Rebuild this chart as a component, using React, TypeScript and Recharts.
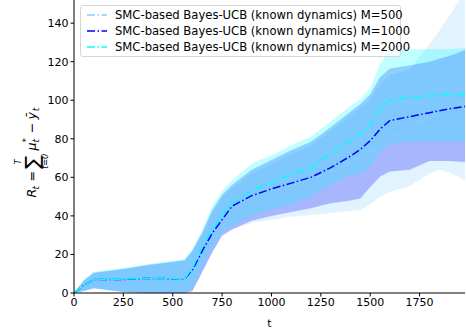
import { ComposedChart, Area, Line, XAxis, YAxis } from "recharts";

const T = [0, 50, 100, 250, 375, 560, 600, 650, 700, 750, 800, 900, 1000, 1100, 1200, 1300, 1400, 1450, 1500, 1550, 1600, 1700, 1800, 1850, 1900, 1980];

// mean regret per number of particles
const MEAN_500 = [0, 4, 7, 7, 7.5, 7.3, 12, 22, 31, 38, 44.5, 50, 53, 55.5, 59, 63, 68, 71, 74, 77, 80, 86, 91, 93.5, 95.5, 99.5];
const MEAN_1000 = [0, 4, 7, 7, 7.6, 7.3, 12, 22, 31, 38, 45, 50.5, 54, 57, 60, 65, 71, 74.5, 79, 85, 89.5, 91.5, 93.5, 94.5, 95.5, 96.8];
const MEAN_2000 = [0, 4, 7, 7.2, 7.7, 7.4, 13, 24, 33, 40.5, 47, 53, 57.5, 61.5, 65, 72.5, 79, 82.5, 87, 96, 100, 101.5, 102.3, 102.5, 102.7, 103];

// band edges
const LO_500 = [0, 1, 2.5, 0.5, 0, 0, 1, 11, 21, 29, 33, 36.5, 38, 39.5, 40.5, 41.5, 42.5, 43, 46, 50, 52.5, 55.5, 62, 64, 62.5, 58.5];
const HI_500 = [0, 6.5, 10.5, 12.5, 14.5, 17, 21.5, 30.5, 41.5, 49.5, 54.5, 62, 67, 72, 76.5, 84, 92, 96, 100, 108.5, 113, 116, 129, 136, 144, 156];
const LO_1000 = [0, 1, 2.5, 0.5, 0, 0, 1, 11, 21, 30, 33, 37.5, 40, 42, 44, 46.5, 48, 49, 55, 60.5, 63, 64, 68.5, 68.5, 68.5, 68];
const HI_1000 = [0, 6.5, 10.5, 12.5, 14.5, 17, 22, 31.5, 43, 51, 56, 64, 69, 74, 78.5, 86, 94, 98, 103, 112, 116.5, 118, 120, 121.5, 123, 126];
const LO_2000 = [0, 1, 2.5, 0.5, 0, 0, 3, 13, 24, 32, 35, 40, 43, 46, 50, 56, 61, 62, 65.5, 73, 77.5, 78.5, 78.5, 78.5, 78.5, 78.5];
const HI_2000 = [0, 7, 11, 13, 15, 17.5, 23, 33, 45, 53, 58.5, 67, 71.5, 76.5, 81, 89, 97, 100.5, 106, 119, 125.5, 126.5, 126.5, 126.5, 126.5, 127];

const X_TICKS = [0, 250, 500, 750, 1000, 1250, 1500, 1750];
const Y_TICKS = [0, 20, 40, 60, 80, 100, 120, 140];

const LABELS = [
  "SMC-based Bayes-UCB (known dynamics) M=500",
  "SMC-based Bayes-UCB (known dynamics) M=1000",
  "SMC-based Bayes-UCB (known dynamics) M=2000",
];
const COLORS = ["#87cefa", "#0000ff", "#00ffff"];
const DASH = "8 2.5 1.5 2.5";
const FONT = "DejaVu Sans, sans-serif";

const data = T.map((t, i) => ({
  t,
  m500: MEAN_500[i],
  m1000: MEAN_1000[i],
  m2000: MEAN_2000[i],
  b500: [LO_500[i], HI_500[i]],
  b1000: [LO_1000[i], HI_1000[i]],
  b2000: [LO_2000[i], HI_2000[i]],
}));

function YLabel() {
  const it = { fontStyle: "italic" as const };
  return (
    <g transform="translate(31,147) rotate(-90) scale(1.15)" fontFamily={FONT} fill="#000">
      <text x={-44} y={4} fontSize={11} {...it}>R</text>
      <text x={-37} y={7} fontSize={8} {...it}>t</text>
      <text x={-30} y={4} fontSize={11}>=</text>
      <text x={-19} y={7} fontSize={17}>∑</text>
      <text x={-15} y={-9} fontSize={7} {...it}>T</text>
      <text x={-19} y={15} fontSize={7} {...it}>t=0</text>
      <text x={-3} y={4} fontSize={11} {...it}>μ</text>
      <text x={4} y={-2} fontSize={8}>*</text>
      <text x={4} y={7} fontSize={8} {...it}>t</text>
      <text x={12} y={4} fontSize={11}>−</text>
      <text x={24} y={4} fontSize={11} {...it}>ȳ</text>
      <text x={31} y={7} fontSize={8} {...it}>t</text>
    </g>
  );
}

export default function App() {
  return (
    <div style={{ position: "absolute", left: 0, top: 0, width: 466, height: 330, background: "#fff" }}>
      <ComposedChart width={466} height={330} data={data} margin={{ top: 0, right: 1, bottom: 0, left: 0 }}>
        <XAxis
          dataKey="t"
          type="number"
          domain={[0, 1980]}
          ticks={X_TICKS}
          allowDataOverflow
          height={37}
          tick={{ fill: "#000", fontSize: 11, fontFamily: FONT }}
          tickSize={3.5}
          tickMargin={2}
          stroke="#000"
          label={{ value: "t", position: "insideBottom", offset: 3, fill: "#000", fontSize: 11, fontFamily: FONT }}
        />
        <YAxis
          type="number"
          domain={[0, 152]}
          ticks={Y_TICKS}
          allowDataOverflow
          width={74}
          tick={{ fill: "#000", fontSize: 11, fontFamily: FONT }}
          tickSize={3.5}
          tickMargin={2}
          stroke="#000"
          label={<YLabel />}
        />
        <Area dataKey="b500" stroke="none" fill={COLORS[0]} fillOpacity={0.25} isAnimationActive={false} />
        <Line dataKey="m500" stroke={COLORS[0]} strokeWidth={1.5} strokeDasharray={DASH} dot={false} isAnimationActive={false} />
        <Area dataKey="b1000" stroke="none" fill={COLORS[1]} fillOpacity={0.25} isAnimationActive={false} />
        <Line dataKey="m1000" stroke={COLORS[1]} strokeWidth={1.5} strokeDasharray={DASH} dot={false} isAnimationActive={false} />
        <Area dataKey="b2000" stroke="none" fill={COLORS[2]} fillOpacity={0.25} isAnimationActive={false} />
        <Line dataKey="m2000" stroke={COLORS[2]} strokeWidth={1.5} strokeDasharray={DASH} dot={false} isAnimationActive={false} />
      </ComposedChart>
      <div
        style={{
          position: "absolute",
          left: 80,
          top: 5,
          width: 321,
          height: 52,
          boxSizing: "border-box",
          border: "1px solid #d6d6d6",
          borderRadius: 3,
          background: "rgba(255,255,255,0.8)",
          fontFamily: FONT,
          fontSize: 11.6,
          paddingTop: 1,
        }}
      >
        {LABELS.map((l, i) => (
          <div key={l} style={{ display: "flex", alignItems: "center", height: 16 }}>
            <svg width={28} height={10} style={{ marginLeft: 6, flexShrink: 0 }}>
              <line x1={0} y1={5} x2={20} y2={5} stroke={COLORS[i]} strokeWidth={1.5} strokeDasharray={DASH} />
            </svg>
            <span style={{ whiteSpace: "nowrap" }}>{l}</span>
          </div>
        ))}
      </div>
    </div>
  );
}
